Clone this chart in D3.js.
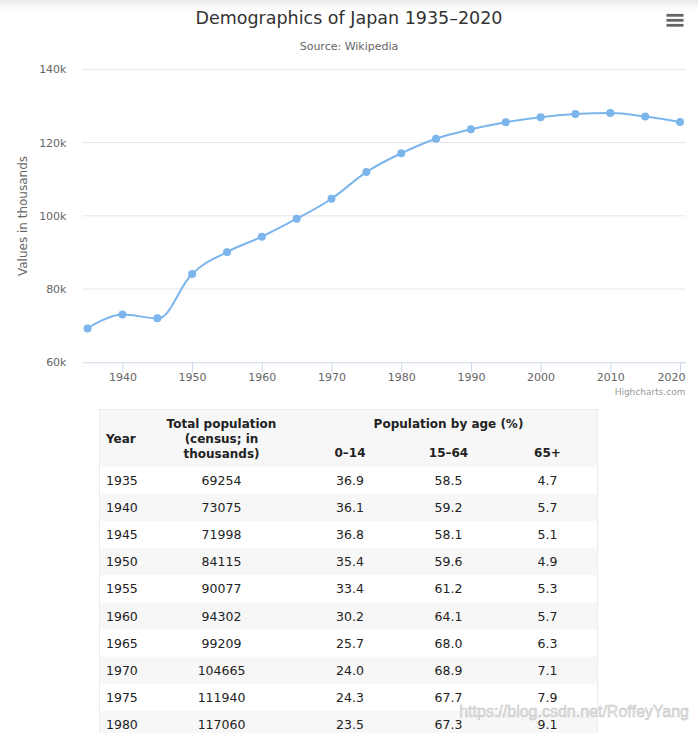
<!DOCTYPE html>
<html><head><meta charset="utf-8">
<script src="https://cdn.jsdelivr.net/npm/d3@7/dist/d3.min.js"></script>
<style>
body{margin:0;background:#fff;}
svg{display:block;font-family:"DejaVu Sans",Verdana,sans-serif;}
</style>
</head><body>
<svg id="c" width="698" height="733"></svg>
<script>
// ---------- data ----------
const years = [1935,1940,1945,1950,1955,1960,1965,1970,1975,1980,1985,1990,1995,2000,2005,2010,2015,2020];
const population = [69254,73075,71998,84115,90077,94302,99209,104665,111940,117060,121049,123611,125570,126926,127768,128057,127095,125600];
const yTickValues = [60000,80000,100000,120000,140000];
const xTickValues = [1940,1950,1960,1970,1980,1990,2000,2010,2020];
const tableYears = [1935,1940,1945,1950,1955,1960,1965,1970,1975,1980];
const tableTotals = [69254,73075,71998,84115,90077,94302,99209,104665,111940,117060];
const age0to14 = ["36.9","36.1","36.8","35.4","33.4","30.2","25.7","24.0","24.3","23.5"];
const age15to64 = ["58.5","59.2","58.1","59.6","61.2","64.1","68.0","68.9","67.7","67.3"];
const age65plus = ["4.7","5.7","5.1","4.9","5.3","5.7","6.3","7.1","7.9","9.1"];
const titleText = "Demographics of Japan 1935–2020";
const subtitleText = "Source: Wikipedia";
const yAxisTitle = "Values in thousands";
const creditText = "Highcharts.com";
const watermarkText = "https://blog.csdn.net/RoffeyYang";

// ---------- Highcharts-like spline curve for d3.line ----------
function HCSpline(ctx){ this._context = ctx; }
HCSpline.prototype = {
  areaStart(){ this._line = 0; }, areaEnd(){ this._line = NaN; },
  lineStart(){ this._pts = []; },
  point(x, y){ this._pts.push([+x, +y]); },
  lineEnd(){
    const p = this._pts, c = this._context, sm = 1.5, den = 2.5;
    const rc = [];
    for (let i = 0; i < p.length; i++) {
      const [px, py] = p[i];
      let lc = null;
      if (i > 0 && i < p.length - 1) {
        const [lx, ly] = p[i-1], [nx, ny] = p[i+1];
        let lcx = (sm*px + lx)/den, lcy = (sm*py + ly)/den;
        let rcx = (sm*px + nx)/den, rcy = (sm*py + ny)/den;
        let corr = 0;
        if (rcx !== lcx) corr = ((rcy - lcy)*(rcx - px))/(rcx - lcx) + py - rcy;
        lcy += corr; rcy += corr;
        if (lcy > ly && lcy > py) { lcy = Math.max(ly, py); rcy = 2*py - lcy; }
        else if (lcy < ly && lcy < py) { lcy = Math.min(ly, py); rcy = 2*py - lcy; }
        if (rcy > ny && rcy > py) { rcy = Math.max(ny, py); lcy = 2*py - rcy; }
        else if (rcy < ny && rcy < py) { rcy = Math.min(ny, py); lcy = 2*py - rcy; }
        lc = [lcx, lcy]; rc[i] = [rcx, rcy];
      }
      if (i === 0) c.moveTo(px, py);
      else {
        const a = rc[i-1] || p[i-1];
        const b = lc || p[i];
        c.bezierCurveTo(a[0], a[1], b[0], b[1], px, py);
      }
    }
  }
};
const curveHC = ctx => new HCSpline(ctx);

// ---------- chart ----------
const svg = d3.select("#c");
const defs = svg.append("defs");
const g1 = defs.append("linearGradient").attr("id","topShade").attr("x1",0).attr("y1",0).attr("x2",0).attr("y2",1);
g1.append("stop").attr("offset","0%").attr("stop-color","#e9e9e9");
g1.append("stop").attr("offset","100%").attr("stop-color","#ffffff").attr("stop-opacity",0);
svg.append("rect").attr("x",0).attr("y",0).attr("width",698).attr("height",14).attr("fill","url(#topShade)");

const plotLeft = 82, plotRight = 686, plotTop = 69.3, plotBottom = 362.3;
const x = d3.scaleLinear().domain([1934.2, 2020.86]).range([plotLeft, plotRight]);
const y = d3.scaleLinear().domain([60000, 140000]).range([plotBottom, plotTop]);

svg.append("text").attr("x", 349).attr("y", 23.5).attr("text-anchor","middle")
  .attr("font-size","17.5px").attr("fill","#333").text(titleText);
svg.append("text").attr("x", 349).attr("y", 50).attr("text-anchor","middle")
  .attr("font-size","11px").attr("fill","#666").text(subtitleText);

// hamburger menu
svg.append("g").selectAll("rect").data([15.3, 20.3, 25.3]).join("rect")
  .attr("x", 666.5).attr("y", d => d - 1.4).attr("width", 17).attr("height", 2.8)
  .attr("fill", "#666");

// grid
svg.append("g").selectAll("line").data(yTickValues.filter(v => v !== 60000)).join("line")
  .attr("x1", plotLeft).attr("x2", plotRight)
  .attr("y1", d => y(d)).attr("y2", d => y(d))
  .attr("stroke", "#e6e6e6").attr("stroke-width", 1);

// y labels
svg.append("g").selectAll("text").data(yTickValues).join("text")
  .attr("x", 66.5).attr("y", d => y(d) + 4).attr("text-anchor","end")
  .attr("font-size","11px").attr("fill","#666").text(d => (d/1000) + "k");

svg.append("text").attr("transform","translate(26.5,216) rotate(-90)")
  .attr("text-anchor","middle").attr("font-size","12px").attr("fill","#666").text(yAxisTitle);

// x axis
const xAxis = svg.append("g").attr("transform", `translate(0,${plotBottom})`)
  .call(d3.axisBottom(x).tickValues(xTickValues).tickSize(10).tickSizeOuter(0).tickPadding(1).tickFormat(d3.format("d")));
xAxis.select(".domain").attr("stroke","#ccd6eb");
xAxis.selectAll(".tick line").attr("stroke","#ccd6eb");
xAxis.selectAll(".tick text").attr("fill","#666").attr("font-size","11px").attr("font-family","DejaVu Sans, Verdana, sans-serif");
// justify the last label inside the plot (as Highcharts does)
const lastVal = xTickValues[xTickValues.length - 1];
xAxis.selectAll(".tick").filter(d => d === lastVal).select("text")
  .attr("text-anchor","end").attr("x", plotRight - 1 - x(lastVal));

// line
const pts = years.map((yr, i) => [yr, population[i]]);
svg.append("path").datum(pts)
  .attr("d", d3.line().x(d => x(d[0])).y(d => y(d[1])).curve(curveHC))
  .attr("fill","none").attr("stroke","#7cb5ec").attr("stroke-width",2)
  .attr("stroke-linejoin","round").attr("stroke-linecap","round");
svg.append("g").selectAll("circle").data(pts).join("circle")
  .attr("cx", d => x(d[0])).attr("cy", d => y(d[1])).attr("r", 4).attr("fill","#7cb5ec");

svg.append("text").attr("x", 685.5).attr("y", 394.5).attr("text-anchor","end")
  .attr("font-size","9px").attr("fill","#999").text(creditText);

// ---------- table ----------
const tLeft = 99, tRight = 598, tTop = 409, headBottom = 467, rowH = 27.1;
const tBottom = headBottom + rowH * tableYears.length;
const tbl = svg.append("g");
tbl.append("rect").attr("x", tLeft).attr("y", tTop).attr("width", tRight - tLeft).attr("height", headBottom - tTop)
  .attr("fill", "#f7f7f7");
tbl.selectAll("rect.row").data(tableYears).join("rect").attr("class","row")
  .attr("x", tLeft).attr("y", (d, i) => headBottom + i*rowH).attr("width", tRight - tLeft).attr("height", rowH)
  .attr("fill", (d, i) => i % 2 ? "#f7f7f7" : "#ffffff");
tbl.append("rect").attr("x", tLeft + 0.5).attr("y", tTop + 0.5).attr("width", tRight - tLeft - 1).attr("height", tBottom - tTop)
  .attr("fill","none").attr("stroke","#ebebeb");

const colX = { year: 106, total: 221.5, a: 350, b: 448.5, c: 547.5 };
const head = tbl.append("g").attr("font-size","12px").attr("font-weight","bold").attr("fill","#222");
head.append("text").attr("x", colX.year).attr("y", 442.5).text("Year");
head.selectAll("text.tp").data(["Total population", "(census; in", "thousands)"]).join("text").attr("class","tp")
  .attr("x", colX.total).attr("y", (d, i) => 427.5 + i*15).attr("text-anchor","middle").text(d => d);
head.append("text").attr("x", colX.b).attr("y", 427.5).attr("text-anchor","middle").text("Population by age (%)");
head.selectAll("text.sub").data([["0–14", colX.a], ["15–64", colX.b], ["65+", colX.c]]).join("text").attr("class","sub")
  .attr("x", d => d[1]).attr("y", 456.5).attr("text-anchor","middle").text(d => d[0]);

const body = tbl.append("g").attr("font-size","12.5px").attr("fill","#222");
const rowY = i => headBottom + i*rowH + rowH/2 + 4.5;
body.selectAll("text.yr").data(tableYears).join("text").attr("class","yr")
  .attr("x", colX.year).attr("y", (d, i) => rowY(i)).text(d => d);
body.selectAll("text.tot").data(tableTotals).join("text").attr("class","tot")
  .attr("x", colX.total).attr("y", (d, i) => rowY(i)).attr("text-anchor","middle").text(d => d);
[[age0to14, colX.a], [age15to64, colX.b], [age65plus, colX.c]].forEach(([arr, cx]) => {
  body.append("g").selectAll("text").data(arr).join("text")
    .attr("x", cx).attr("y", (d, i) => rowY(i)).attr("text-anchor","middle").text(d => d);
});

// watermark
svg.append("text").attr("x", 689).attr("y", 717).attr("text-anchor","end")
  .attr("font-family","Liberation Sans, Arial, sans-serif").attr("font-size","16px")
  .attr("fill","#e6e6e6").attr("stroke","#bdbdbd").attr("stroke-width",0.45)
  .text(watermarkText);
</script>
</body></html>
